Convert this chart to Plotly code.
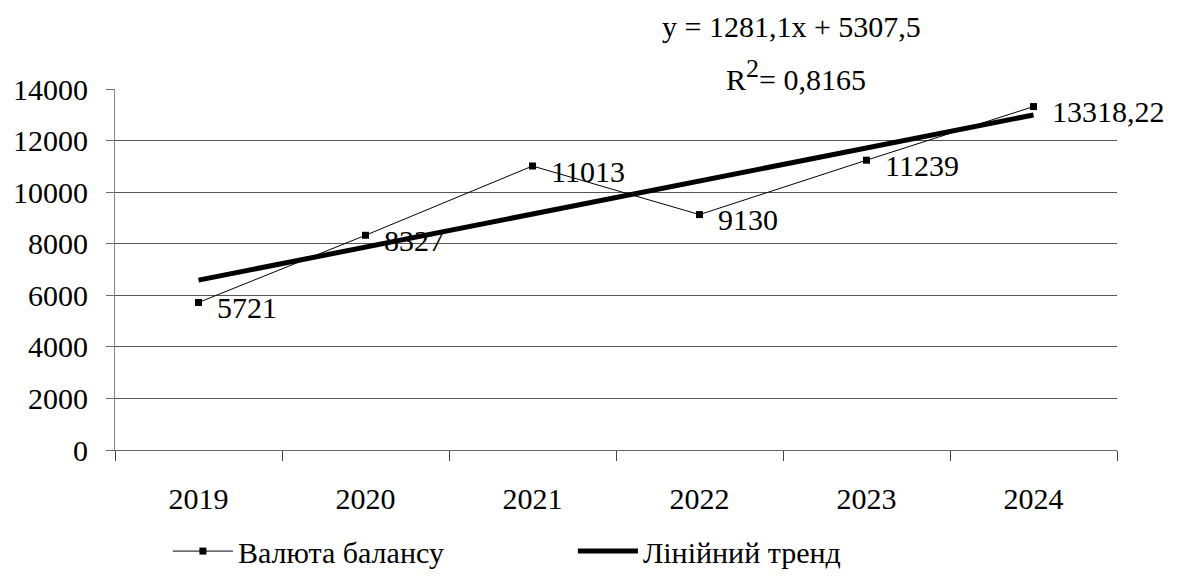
import plotly.graph_objects as go

# Balance sheet totals by year
years = ["2019", "2020", "2021", "2022", "2023", "2024"]
balance = [5721, 8327, 11013, 9130, 11239, 13318.22]

# Linear trend coefficients (x = 1..6)
trend_slope = 1281.1
trend_intercept = 5307.5
trend_r2 = 0.8165

y_ticks = [0, 2000, 4000, 6000, 8000, 10000, 12000, 14000]

FONT = "Liberation Serif"
FS = 30


def fmt_num(v):
    if float(v).is_integer():
        return str(int(v))
    return f"{v:.2f}".replace(".", ",")


def fmt_coef(v):
    return f"{v:g}".replace(".", ",")


def serif(size=FS):
    return dict(family=FONT, size=size, color="black")


trend = [trend_slope * (i + 1) + trend_intercept for i in range(len(years))]

fig = go.Figure()

fig.add_trace(go.Scatter(
    x=years, y=balance, mode="lines+markers", name="Валюта балансу",
    line=dict(color="black", width=1),
    marker=dict(symbol="square", size=7, color="black"),
))

fig.add_trace(go.Scatter(
    x=years, y=trend, mode="lines", name="Лінійний тренд",
    line=dict(color="black", width=5),
))

# Value labels beside each point
for i, v in enumerate(balance):
    fig.add_annotation(
        xref="x", yref="y", x=i, y=v, text=fmt_num(v), showarrow=False,
        xanchor="left", yanchor="middle", xshift=16, yshift=-5,
        font=serif(),
    )

# Trend equation
fig.add_annotation(
    xref="paper", yref="paper", x=0.675, y=1.0, yshift=63,
    text=f"y = {fmt_coef(trend_slope)}x + {fmt_coef(trend_intercept)}",
    showarrow=False, xanchor="center", yanchor="middle",
    font=serif(),
)
fig.add_annotation(
    xref="paper", yref="paper", x=0.68, y=1.0, yshift=14,
    text=f"R<sup><span style='font-size:26px'>2</span></sup>= {fmt_coef(trend_r2)}",
    showarrow=False, xanchor="center", yanchor="middle",
    font=serif(),
)

fig.update_layout(
    width=1186, height=583,
    margin=dict(l=115, r=69, t=89, b=133, autoexpand=False),
    paper_bgcolor="white", plot_bgcolor="white",
    showlegend=True,
    legend=dict(
        orientation="h", x=0.457, xanchor="center", y=-0.28, yanchor="middle",
        font=serif(),
        entrywidth=330, itemwidth=60,
    ),
)

fig.update_xaxes(
    type="category", range=[-0.5, 5.5],
    showgrid=False, showline=True, linecolor="#666", linewidth=1,
    ticks="outside", tickson="boundaries", ticklen=10, tickcolor="#444",
    ticklabelstandoff=22,
    tickfont=serif(),
)

fig.update_yaxes(
    range=[0, 14000], tickvals=y_ticks, ticktext=[str(t) for t in y_ticks],
    showgrid=True, gridcolor="#555", gridwidth=1,
    zeroline=False,
    showline=True, linecolor="#888", linewidth=1,
    ticks="outside", ticklen=8, tickcolor="#666",
    ticklabelstandoff=12,
    tickfont=serif(),
)

fig.write_html("out.html")
